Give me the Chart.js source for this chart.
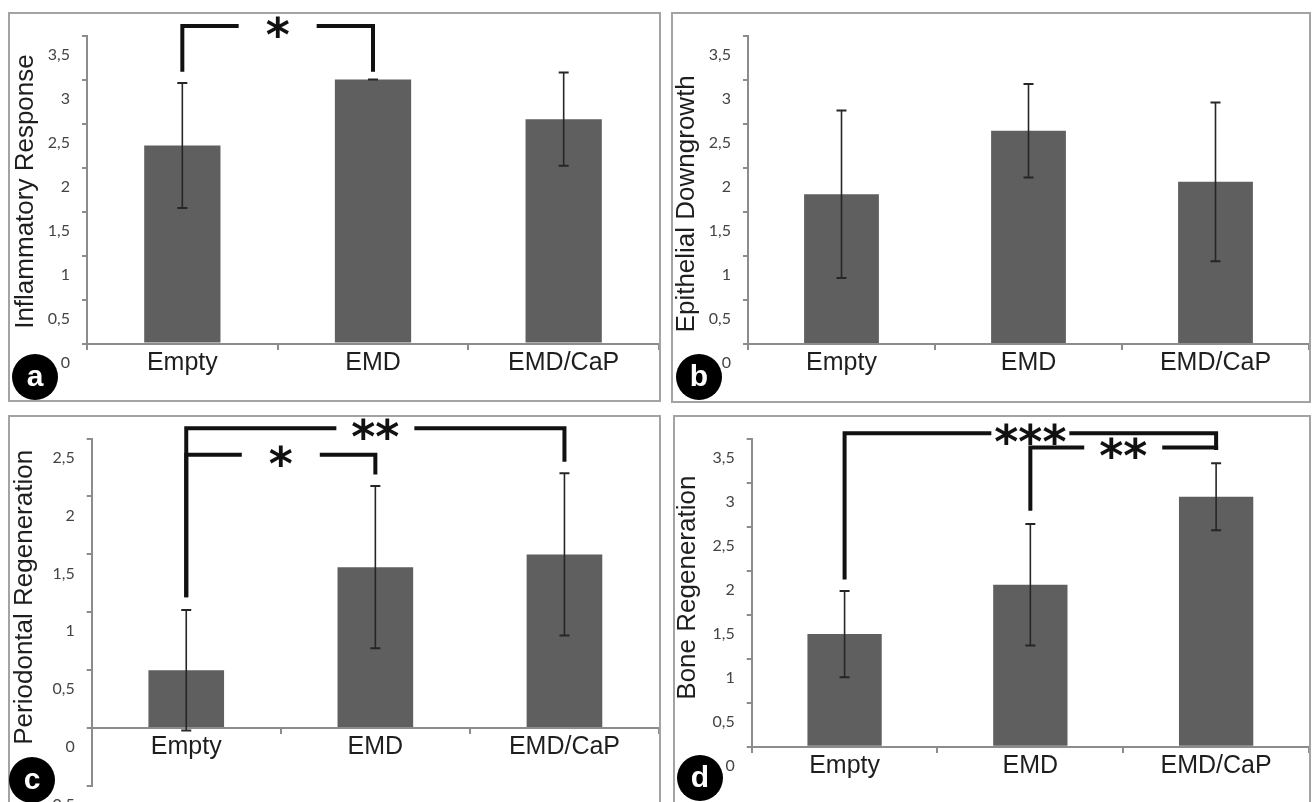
<!DOCTYPE html>
<html>
<head>
<meta charset="utf-8">
<script src="https://cdn.jsdelivr.net/npm/chart.js@4.4.1/dist/chart.umd.min.js"></script>
<style>
  html, body { margin: 0; padding: 0; background: #fff; width: 1314px; height: 802px; overflow: hidden; }
  .panel { position: absolute; border: 2px solid #a3a3a3; box-sizing: border-box; background: #fff; }
  .panel canvas { position: absolute; left: 0; top: 0; }
  .tag { position: absolute; width: 46px; height: 46px; border-radius: 50%; background: #000; color: #fff;
         font: bold 30px 'Liberation Sans', Arial, sans-serif; text-align: center; line-height: 44px; }
</style>
</head>
<body>
<div class="panel" style="left:8px;top:12px;width:653px;height:390px"><canvas id="chartA" width="649" height="386"></canvas></div>
<div class="panel" style="left:671px;top:12px;width:640px;height:391px"><canvas id="chartB" width="636" height="387"></canvas></div>
<div class="panel" style="left:8px;top:415px;width:653px;height:400px"><canvas id="chartC" width="649" height="396"></canvas></div>
<div class="panel" style="left:673px;top:415px;width:638px;height:400px"><canvas id="chartD" width="634" height="396"></canvas></div>
<div class="tag" style="left:12px;top:354px">a</div>
<div class="tag" style="left:676px;top:354px">b</div>
<div class="tag" style="left:9px;top:757px">c</div>
<div class="tag" style="left:677px;top:755px">d</div>

<script>
// data
const categories = ['Empty', 'EMD', 'EMD/CaP'];

const inflammatoryMeans = [2.25, 3.0, 2.55];
const inflammatoryErr = [0.71, 0, 0.53];

const epithelialMeans = [1.70, 2.42, 1.84];
const epithelialErr = [0.95, 0.53, 0.90];

const periodontalMeans = [0.50, 1.39, 1.50];
const periodontalErr = [0.52, 0.70, 0.70];

const boneMeans = [1.28, 1.84, 2.84];
const boneErr = [0.49, 0.69, 0.38];

const ticks0to35 = ['0', '0,5', '1', '1,5', '2', '2,5', '3', '3,5'];
const ticksNeg05to25 = ['-0,5', '0', '0,5', '1', '1,5', '2', '2,5'];

// significance brackets: category indices, bracket level and drop ends in axis units
const bracketsA = [
    { from: 0, to: 1, level: 3.61, leftEnd: 3.09, rightEnd: 3.09, stars: '*' }
];
const bracketsC = [
    { from: 0, to: 2, level: 2.59, leftEnd: 1.13, rightEnd: 2.30, stars: '**' },
    { from: 0, to: 1, level: 2.36, leftEnd: 1.13, rightEnd: 2.19, stars: '*' }
];
const bracketsD = [
    { from: 0, to: 2, level: 3.56, leftEnd: 1.90, rightEnd: 3.37, stars: '***' },
    { from: 1, to: 2, level: 3.40, leftEnd: 2.68, rightEnd: 3.37, stars: '**' }
];

const AXIS_GREY = '#8c8c8c';

const errorBars = {
    id: 'errorBars',
    afterDatasetsDraw(chart, args, opts) {
        const { ctx } = chart;
        const y = chart.scales.y;
        const meta = chart.getDatasetMeta(0);
        const values = chart.data.datasets[0].data;
        ctx.save();
        ctx.strokeStyle = '#262626';
        meta.data.forEach((bar, i) => {
            const top = y.getPixelForValue(values[i] + opts.errors[i]);
            const bot = y.getPixelForValue(values[i] - opts.errors[i]);
            ctx.lineWidth = 1.6;
            ctx.beginPath();
            ctx.moveTo(bar.x, top);
            ctx.lineTo(bar.x, bot);
            ctx.stroke();
            ctx.lineWidth = 2;
            ctx.beginPath();
            ctx.moveTo(bar.x - 5, top); ctx.lineTo(bar.x + 5, top);
            ctx.moveTo(bar.x - 5, bot); ctx.lineTo(bar.x + 5, bot);
            ctx.stroke();
        });
        ctx.restore();
    }
};

const brackets = {
    id: 'brackets',
    afterDraw(chart, args, opts) {
        if (!opts.items) return;
        const { ctx } = chart;
        const x = chart.scales.x, y = chart.scales.y;
        const gap = 39;
        ctx.save();
        ctx.strokeStyle = '#111';
        ctx.fillStyle = '#111';
        ctx.lineWidth = 4;
        ctx.lineJoin = 'miter';
        ctx.font = 'bold 46px "DejaVu Sans", sans-serif';
        ctx.textAlign = 'center';
        ctx.textBaseline = 'alphabetic';
        opts.items.forEach(b => {
            const x1 = x.getPixelForValue(b.from);
            const x2 = x.getPixelForValue(b.to);
            const yl = y.getPixelForValue(b.level);
            const mid = (x1 + x2) / 2;
            ctx.beginPath();
            ctx.moveTo(x1, y.getPixelForValue(b.leftEnd));
            ctx.lineTo(x1, yl);
            ctx.lineTo(mid - gap, yl);
            ctx.moveTo(mid + gap, yl);
            ctx.lineTo(x2, yl);
            ctx.lineTo(x2, y.getPixelForValue(b.rightEnd));
            ctx.stroke();
            ctx.fillText(b.stars, mid, yl + 25);
        });
        ctx.restore();
    }
};

// rotated y title, centred on the plot area with a small per-panel shift
const sideTitle = {
    id: 'sideTitle',
    afterDraw(chart, args, opts) {
        const { ctx, chartArea } = chart;
        ctx.save();
        ctx.translate(opts.x, (chartArea.top + chartArea.bottom) / 2 + opts.shift);
        ctx.rotate(-Math.PI / 2);
        ctx.font = '26px "Liberation Sans", Arial, sans-serif';
        ctx.fillStyle = '#1e1e1e';
        ctx.textAlign = 'center';
        ctx.textBaseline = 'middle';
        ctx.fillText(opts.text, 0, 0);
        ctx.restore();
    }
};

function makeChart(id, p) {
    return new Chart(document.getElementById(id), {
        type: 'bar',
        data: {
            labels: categories,
            datasets: [{
                data: p.means,
                backgroundColor: '#5f5f5f',
                borderWidth: 0,
                barPercentage: 0.4,
                categoryPercentage: 1
            }]
        },
        options: {
            responsive: false,
            animation: false,
            layout: { padding: { left: 0, right: 0, top: p.padTop, bottom: p.padBottom } },
            plugins: {
                legend: { display: false },
                tooltip: { enabled: false },
                errorBars: { errors: p.errors },
                brackets: { items: p.brackets },
                sideTitle: { text: p.title, x: p.titleX, shift: p.titleShift }
            },
            scales: {
                x: {
                    position: { y: 0 },
                    grid: { drawOnChartArea: false, drawTicks: true, tickLength: 5, color: AXIS_GREY, lineWidth: 2, offset: true },
                    border: { color: AXIS_GREY, width: 2 },
                    ticks: {
                        color: '#1e1e1e',
                        padding: 2,
                        maxRotation: 0,
                        autoSkip: false,
                        font: { family: "'Liberation Sans', Arial, sans-serif", size: 25, lineHeight: 1 }
                    }
                },
                y: {
                    min: p.min,
                    max: p.max,
                    afterFit(scale) { scale.width = p.axisX; },
                    grid: { drawOnChartArea: false, drawTicks: true, tickLength: 5, color: AXIS_GREY, lineWidth: 2 },
                    border: { color: AXIS_GREY, width: 2 },
                    ticks: {
                        stepSize: 0.5,
                        padding: 12,
                        labelOffset: 19,
                        color: '#444',
                        font: { family: 'Lato, sans-serif', size: 16 },
                        callback: (value, index) => p.tickLabels[index]
                    }
                }
            }
        },
        plugins: [errorBars, brackets, sideTitle]
    });
}

makeChart('chartA', {
    title: 'Inflammatory Response', means: inflammatoryMeans, errors: inflammatoryErr,
    min: 0, max: 3.5, tickLabels: ticks0to35, brackets: bracketsA,
    axisX: 77, padTop: 17.7, padBottom: 56.5, titleX: 16, titleShift: 2
});
makeChart('chartB', {
    title: 'Epithelial Downgrowth', means: epithelialMeans, errors: epithelialErr,
    min: 0, max: 3.5, tickLabels: ticks0to35, brackets: null,
    axisX: 75, padTop: 17.7, padBottom: 57, titleX: 14, titleShift: 14
});
makeChart('chartC', {
    title: 'Periodontal Regeneration', means: periodontalMeans, errors: periodontalErr,
    min: -0.5, max: 2.5, tickLabels: ticksNeg05to25, brackets: bracketsC,
    axisX: 81.7, padTop: 16.3, padBottom: 27, titleX: 15, titleShift: -15
});
makeChart('chartD', {
    title: 'Bone Regeneration', means: boneMeans, errors: boneErr,
    min: 0, max: 3.5, tickLabels: ticks0to35, brackets: bracketsD,
    axisX: 76.7, padTop: 16.3, padBottom: 66.3, titleX: 13, titleShift: -5
});
</script>
</body>
</html>
